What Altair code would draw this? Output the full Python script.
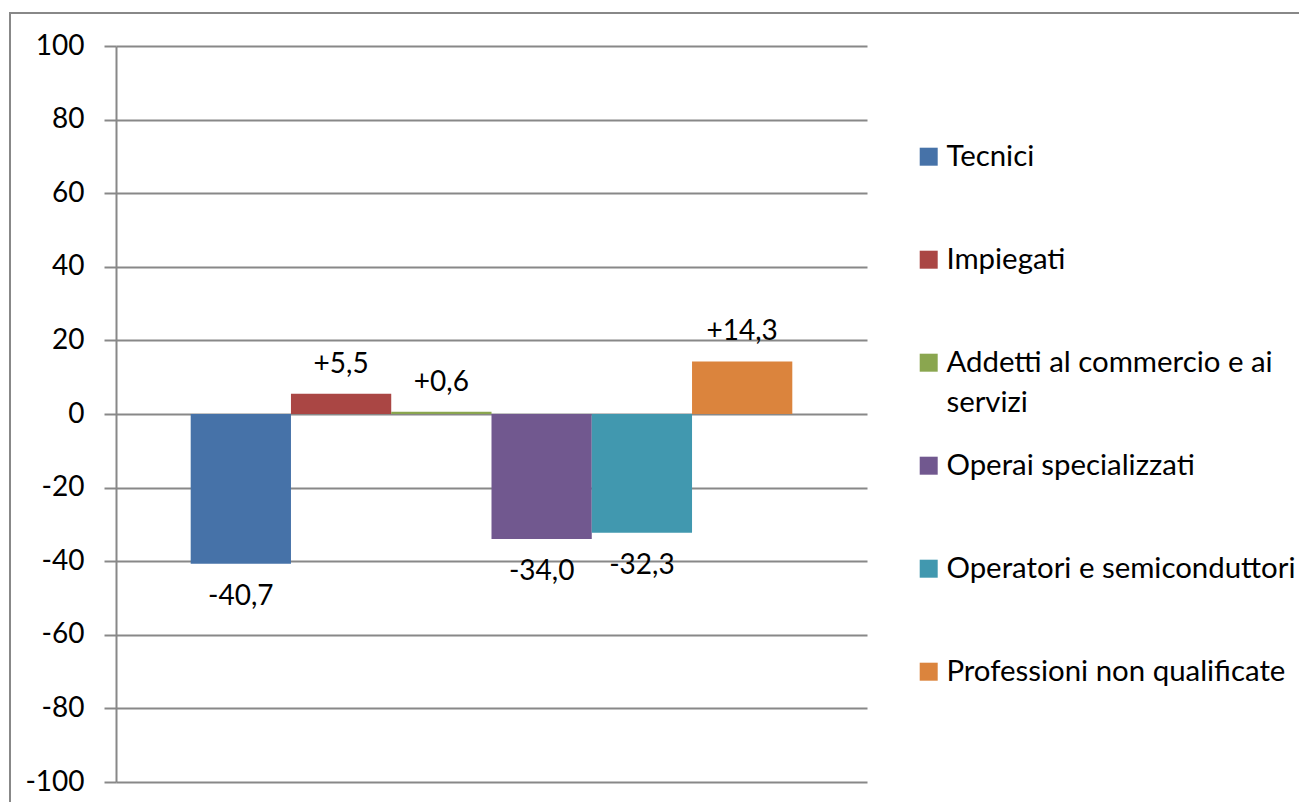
import altair as alt
import pandas as pd

categories = [
    "Tecnici",
    "Impiegati",
    "Addetti al commercio e ai servizi",
    "Operai specializzati",
    "Operatori e semiconduttori",
    "Professioni non qualificate",
]
values = [-40.7, 5.5, 0.6, -34.0, -32.3, 14.3]
colors = ["#4672A8", "#AA4644", "#8AA64F", "#71588F", "#4198AF", "#DB843D"]
y_ticks = [-100, -80, -60, -40, -20, 0, 20, 40, 60, 80, 100]

FONT = "Lato"
GRAY = "#888888"

df = pd.DataFrame({"cat": categories, "val": values})
df["label"] = [f"{v:+.1f}".replace(".", ",") for v in values]

x = alt.X(
    "cat:N",
    sort=categories,
    axis=None,
    scale=alt.Scale(paddingInner=0, paddingOuter=0.745),
)
y = alt.Y(
    "val:Q",
    scale=alt.Scale(domain=[-100, 100], nice=False),
    axis=alt.Axis(
        values=y_ticks,
        title=None,
        grid=True,
        tickSize=12,
        labelPadding=20,
        labelFontSize=28,
        labelFont=FONT,
        labelColor="black",
        labelExpr="datum.value < 0 ? '-' + abs(datum.value) : '' + datum.value",
        domainColor=GRAY,
        tickColor=GRAY,
        gridColor=GRAY,
        domainWidth=2,
        tickWidth=2,
        gridWidth=2,
    ),
)

label_expr = (
    "datum.label == 'Addetti al commercio e ai servizi' ? "
    "['Addetti al commercio e ai', 'servizi'] : datum.label"
)

color = alt.Color(
    "cat:N",
    sort=categories,
    scale=alt.Scale(domain=categories, range=colors),
    legend=alt.Legend(
        title=None,
        orient="none",
        legendX=798,
        legendY=96,
        padding=0,
        gridAlign="all",
        symbolType="square",
        symbolSize=324,
        symbolStrokeWidth=0,
        symbolOffset=0,
        labelOffset=3,
        labelFont=FONT,
        labelFontSize=29.4,
        labelColor="black",
        labelLimit=600,
        rowPadding=32,
        labelExpr=label_expr,
    ),
)

frame = alt.Chart(pd.DataFrame({"f": [0]})).mark_rect(
    filled=False, stroke=GRAY, strokeWidth=2
).encode(
    x=alt.value(-106), x2=alt.value(1400), y=alt.value(-33), y2=alt.value(900)
)

bars = alt.Chart(df).mark_bar().encode(x=x, y=y, color=color)

pos_text = alt.Chart(df).transform_filter("datum.val >= 0").mark_text(
    font=FONT, fontSize=28, baseline="middle", dy=-29, color="black"
).encode(x=x, y=y, text="label:N")

neg_text = alt.Chart(df).transform_filter("datum.val < 0").mark_text(
    font=FONT, fontSize=28, baseline="middle", dy=33, color="black"
).encode(x=x, y=y, text="label:N")

chart = (
    alt.layer(frame, bars, pos_text, neg_text)
    .properties(
        width=751,
        height=736,
        padding={"left": 108, "top": 38, "right": 432, "bottom": 20},
        autosize=alt.AutoSizeParams(type="none"),
    )
    .configure(style={"guide-label": {"lineHeight": 40}})
    .configure_view(stroke=None)
)

chart.save("out.html", embed_options={"renderer": "svg", "actions": False})
